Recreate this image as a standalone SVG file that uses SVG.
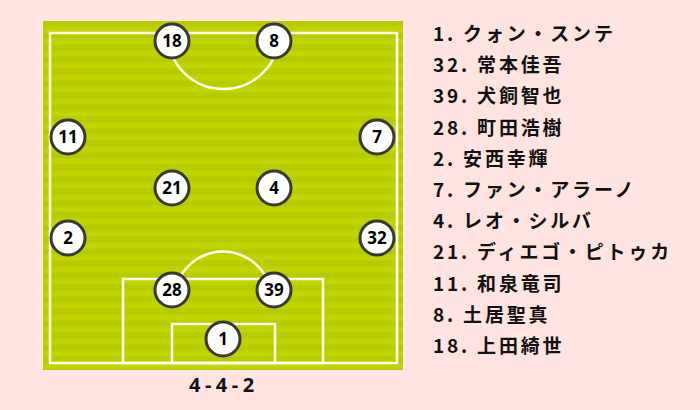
<svg xmlns="http://www.w3.org/2000/svg" width="700" height="410" viewBox="0 0 700 410">
<style>
.line{fill:none;stroke:#FFFFF0;stroke-width:2.5}
.p circle{fill:#fff;stroke:#383838;stroke-width:3}
.p text{font-family:"Noto Sans","DejaVu Sans",sans-serif;font-weight:bold;font-size:17px;fill:#000;text-anchor:middle}
.n{font-family:"Noto Sans CJK JP","Noto Sans",sans-serif;font-weight:bold;font-size:19px;fill:#111;letter-spacing:2.8px}
.cap{font-family:"Noto Sans","DejaVu Sans",sans-serif;font-weight:bold;font-size:20px;fill:#111;letter-spacing:4.5px}
</style>
<defs>
<pattern id="stripe" x="0" y="21" width="20" height="12" patternUnits="userSpaceOnUse">
<rect width="20" height="12" fill="#BDD200"/>
<rect y="0" width="20" height="5" fill="#B7CC00"/>
<rect y="8" width="20" height="2" fill="#C3D600"/>
</pattern>
</defs>
<rect width="700" height="410" fill="#FFE4E1"/>
<g id="pitch">
<rect x="43" y="21" width="360" height="349" fill="url(#stripe)"/>
<rect class="line" x="50" y="33" width="347" height="330"/>
<path class="line" d="M167.5 33 A56 56 0 0 0 279.5 33"/>
<rect class="line" x="123" y="279" width="200" height="84"/>
<rect class="line" x="172" y="324" width="103" height="39"/>
<path class="line" d="M179 279 A49 49 0 0 1 267 279"/>
</g>
<g id="connectors"></g>
<g id="p18" class="p"><circle cx="172" cy="41" r="17"/><text x="172" y="47">18</text></g>
<g id="p8" class="p"><circle cx="274" cy="41" r="17"/><text x="274" y="47">8</text></g>
<g id="p11" class="p"><circle cx="68" cy="137" r="17"/><text x="68" y="143">11</text></g>
<g id="p7" class="p"><circle cx="377" cy="137" r="17"/><text x="377" y="143">7</text></g>
<g id="p21" class="p"><circle cx="172" cy="188" r="17"/><text x="172" y="194">21</text></g>
<g id="p4" class="p"><circle cx="274" cy="188" r="17"/><text x="274" y="194">4</text></g>
<g id="p2" class="p"><circle cx="68" cy="238" r="17"/><text x="68" y="244">2</text></g>
<g id="p32" class="p"><circle cx="377" cy="238" r="17"/><text x="377" y="244">32</text></g>
<g id="p28" class="p"><circle cx="172" cy="290" r="17"/><text x="172" y="296">28</text></g>
<g id="p39" class="p"><circle cx="274" cy="290" r="17"/><text x="274" y="296">39</text></g>
<g id="p1" class="p"><circle cx="223" cy="339" r="17"/><text x="223" y="345">1</text></g>
<text class="cap" x="189" y="392">4-4-2</text>
<g id="roster">
<text class="n" x="433" y="41">1. クォン・スンテ</text>
<text class="n" x="433" y="72.2">32. 常本佳吾</text>
<text class="n" x="433" y="103.4">39. 犬飼智也</text>
<text class="n" x="433" y="134.6">28. 町田浩樹</text>
<text class="n" x="433" y="165.8">2. 安西幸輝</text>
<text class="n" x="433" y="197">7. ファン・アラーノ</text>
<text class="n" x="433" y="228.2">4. レオ・シルバ</text>
<text class="n" x="433" y="259.4">21. ディエゴ・ピトゥカ</text>
<text class="n" x="433" y="290.6">11. 和泉竜司</text>
<text class="n" x="433" y="321.8">8. 土居聖真</text>
<text class="n" x="433" y="353">18. 上田綺世</text>
</g>
</svg>
